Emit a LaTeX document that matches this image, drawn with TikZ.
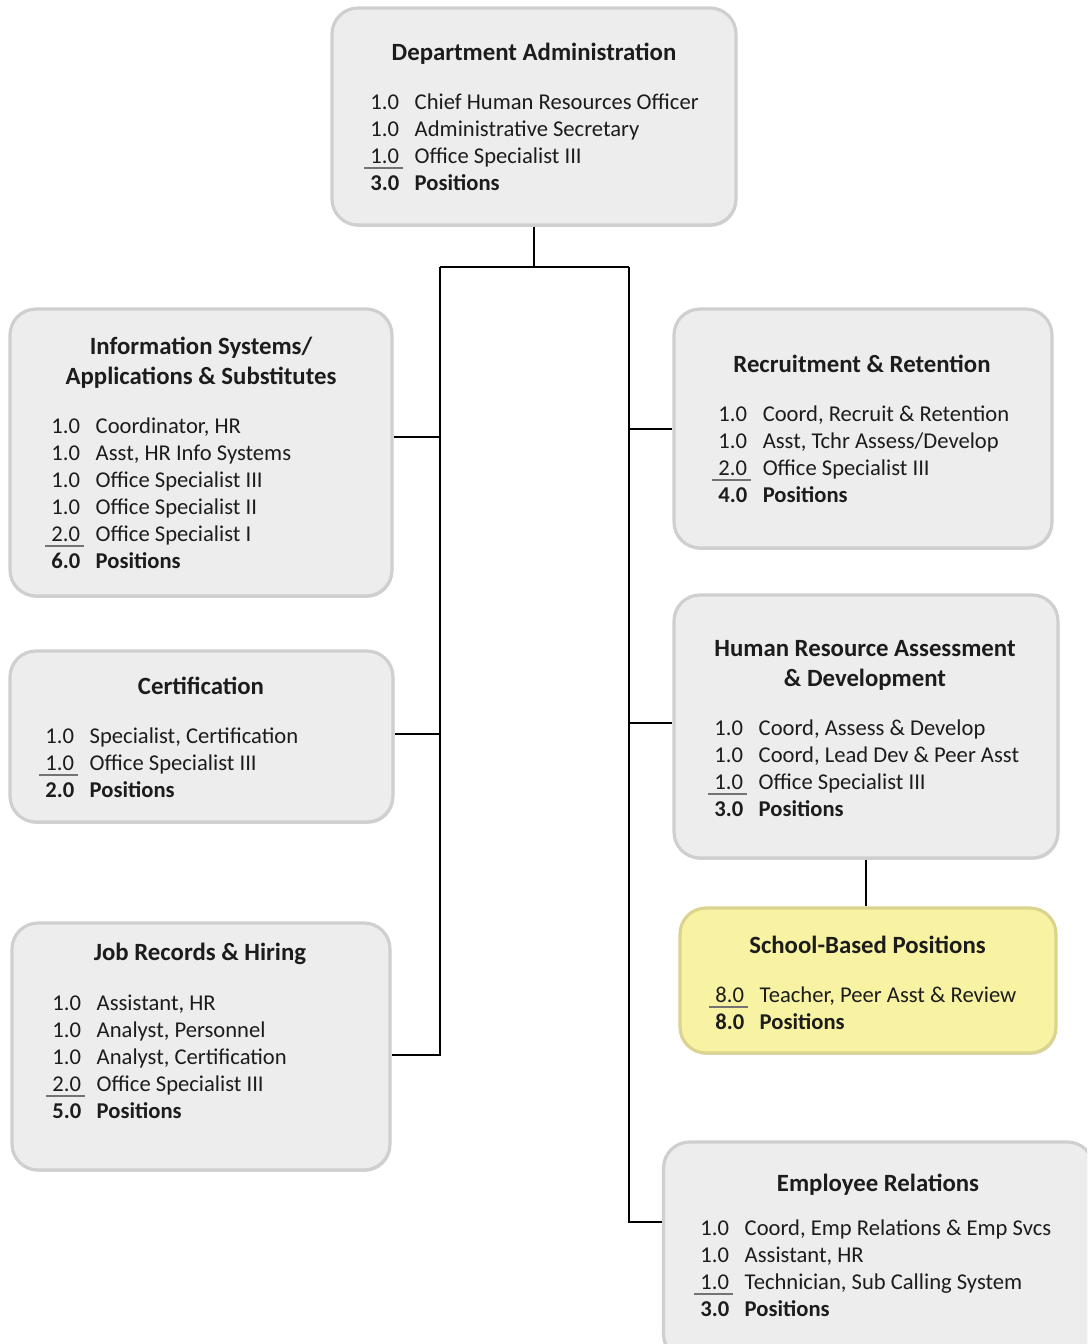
\documentclass[tikz,border=0pt]{standalone}
\usepackage{fontspec}
\setmainfont{Carlito}
\usetikzlibrary{positioning,shadows}

\definecolor{boxfill}{HTML}{EDEDED}
\definecolor{boxedge}{HTML}{CFCFCF}
\definecolor{yelfill}{HTML}{F8F3A2}
\definecolor{yeledge}{HTML}{DAD490}
\definecolor{ink}{HTML}{1C1C1C}

% number with the rule under it (last line before the total)
\newcommand{\lastnum}[1]{\makebox[0pt][l]{\hspace{-3pt}\textcolor{black!55}{\rule[-3pt]{19.5pt}{0.9pt}}}#1}

\begin{document}
\begin{tikzpicture}[x=0.5pt, y=-0.5pt,
  orgbox/.style={draw=boxedge, line width=1.6pt, fill=boxfill, rounded corners=13pt, inner sep=0pt,
    drop shadow={shadow xshift=0.5pt, shadow yshift=-0.9pt, fill=black!35, opacity=0.45}},
  yelbox/.style={orgbox, draw=yeledge, fill=yelfill},
  head/.style={font=\fontsize{12.4}{15}\selectfont\bfseries, text=ink, anchor=base, inner sep=0pt},
  items/.style={font=\fontsize{11.3}{13.5}\selectfont, text=ink, anchor=base west, inner sep=0pt},
  link/.style={draw=black, line width=1pt}]
\path[use as bounding box, clip] (0,0) rectangle (1087,1344);

% boxes
\node[orgbox, minimum width=202pt, minimum height=108.5pt] (admin) at (534,116.5) {};
\node[orgbox, minimum width=191pt, minimum height=143.5pt] (infosys) at (201,452.5) {};
\node[orgbox, minimum width=191.5pt, minimum height=85.5pt] (cert) at (201.5,736.5) {};
\node[orgbox, minimum width=189pt, minimum height=123.5pt] (jobrec) at (201,1046.5) {};
\node[orgbox, minimum width=189pt, minimum height=119.5pt] (recruit) at (863,428.5) {};
\node[orgbox, minimum width=192pt, minimum height=131.5pt] (assess) at (866,726.5) {};
\node[yelbox, minimum width=188pt, minimum height=72.5pt] (school) at (868,980.5) {};
\node[orgbox, minimum width=215pt, minimum height=109pt] (emprel) at (878.5,1251) {};

% Department Administration
\node[head] (admin-t) at (534,60) {Department Administration};
\node[items] (admin-l) at (370,109) {\begin{tabular}[t]{@{}l@{\hspace{7.7pt}}l@{}}
1.0 & Chief Human Resources Officer\\
1.0 & Administrative Secretary\\
\lastnum{1.0} & Office Specialist III\\
\bfseries 3.0 & \bfseries Positions
\end{tabular}};

% Information Systems
\node[head] (infosys-t) at (201,354) {\begin{tabular}[t]{@{}c@{}}Information Systems/\\ Applications \& Substitutes\end{tabular}};
\node[items] (infosys-l) at (51,433) {\begin{tabular}[t]{@{}l@{\hspace{7.7pt}}l@{}}
1.0 & Coordinator, HR\\
1.0 & Asst, HR Info Systems\\
1.0 & Office Specialist III\\
1.0 & Office Specialist II\\
\lastnum{2.0} & Office Specialist I\\
\bfseries 6.0 & \bfseries Positions
\end{tabular}};

% Certification
\node[head] (cert-t) at (201,694) {Certification};
\node[items] (cert-l) at (45,743) {\begin{tabular}[t]{@{}l@{\hspace{7.7pt}}l@{}}
1.0 & Specialist, Certification\\
\lastnum{1.0} & Office Specialist III\\
\bfseries 2.0 & \bfseries Positions
\end{tabular}};

% Job Records & Hiring
\node[head] (jobrec-t) at (200,960) {Job Records \& Hiring};
\node[items] (jobrec-l) at (52,1010) {\begin{tabular}[t]{@{}l@{\hspace{7.7pt}}l@{}}
1.0 & Assistant, HR\\
1.0 & Analyst, Personnel\\
1.0 & Analyst, Certification\\
\lastnum{2.0} & Office Specialist III\\
\bfseries 5.0 & \bfseries Positions
\end{tabular}};

% Recruitment & Retention
\node[head] (recruit-t) at (862,372) {Recruitment \& Retention};
\node[items] (recruit-l) at (718,421) {\begin{tabular}[t]{@{}l@{\hspace{7.7pt}}l@{}}
1.0 & Coord, Recruit \& Retention\\
1.0 & Asst, Tchr Assess/Develop\\
\lastnum{2.0} & Office Specialist III\\
\bfseries 4.0 & \bfseries Positions
\end{tabular}};

% HR Assessment & Development
\node[head] (assess-t) at (865,656) {\begin{tabular}[t]{@{}c@{}}Human Resource Assessment\\ \& Development\end{tabular}};
\node[items] (assess-l) at (714,735) {\begin{tabular}[t]{@{}l@{\hspace{7.7pt}}l@{}}
1.0 & Coord, Assess \& Develop\\
1.0 & Coord, Lead Dev \& Peer Asst\\
\lastnum{1.0} & Office Specialist III\\
\bfseries 3.0 & \bfseries Positions
\end{tabular}};

% School-Based Positions
\node[head] (school-t) at (867.5,953) {School-Based Positions};
\node[items] (school-l) at (715,1002) {\begin{tabular}[t]{@{}l@{\hspace{7.7pt}}l@{}}
\lastnum{8.0} & Teacher, Peer Asst \& Review\\
\bfseries 8.0 & \bfseries Positions
\end{tabular}};

% Employee Relations
\node[head] (emprel-t) at (878,1191) {Employee Relations};
\node[items] (emprel-l) at (700,1235) {\begin{tabular}[t]{@{}l@{\hspace{7.7pt}}l@{}}
1.0 & Coord, Emp Relations \& Emp Svcs\\
1.0 & Assistant, HR\\
\lastnum{1.0} & Technician, Sub Calling System\\
\bfseries 3.0 & \bfseries Positions
\end{tabular}};

% connectors
\coordinate (lt) at (440,267);
\coordinate (rt) at (629,267);
\coordinate (infosys-in) at ([yshift=7.75pt]infosys.east);
\coordinate (cert-in) at ([yshift=1.25pt]cert.east);
\coordinate (jobrec-in) at ([yshift=-4.25pt]jobrec.east);
\coordinate (recruit-in) at (recruit.west);
\coordinate (assess-in) at ([yshift=1.75pt]assess.west);
\coordinate (emprel-in) at ([yshift=14.5pt]emprel.west);

\draw[link] (admin.south) -- (admin.south |- lt);
\draw[link] (lt) -- (rt);
\draw[link] (lt) |- (jobrec-in);
\draw[link] (infosys-in) -- (infosys-in -| lt);
\draw[link] (cert-in) -- (cert-in -| lt);
\draw[link] (rt) |- (emprel-in);
\draw[link] (recruit-in) -- (recruit-in -| rt);
\draw[link] (assess-in) -- (assess-in -| rt);
\draw[link] (assess.south) -- (assess.south |- school.north);
\end{tikzpicture}
\end{document}
